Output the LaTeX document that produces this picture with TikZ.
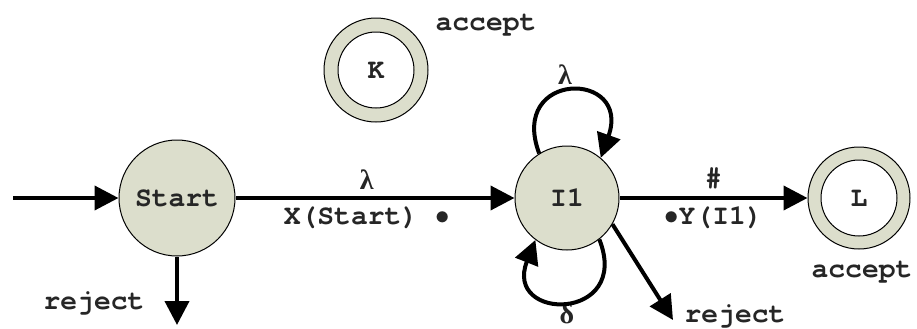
\documentclass[tikz,border=0pt]{standalone}
\usepackage{fontspec}
\newfontfamily\cursorfont{texgyrecursor-bold.otf}
\newfontfamily\greekfont{Liberation Serif}
\usetikzlibrary{arrows.meta}
\definecolor{statefill}{RGB}{220,222,204}
\newcommand{\glam}{{\greekfont\bfseries λ}}
\newcommand{\gdel}{{\greekfont\bfseries δ}}
\newcommand{\gdot}{$\bullet$}
\begin{document}
\begin{tikzpicture}[x=0.5pt,y=0.5pt,
  every node/.style={font=\cursorfont\fontsize{14}{16}\selectfont,
    text=black!85},
  state/.style={circle,draw,fill=statefill,line width=0.5pt,inner sep=0pt},
  ring/.style={circle,draw,fill=white,line width=0.5pt,inner sep=0pt,
    minimum size=38pt},
  arr/.style={line width=2pt,-{Triangle[length=12pt,width=12pt]}}]
\useasboundingbox (0,0) rectangle (917,328);
% states
\node[state,minimum size=58pt] (Start) at (177,130) {Start};
\node[state,minimum size=52pt] (I1) at (567,130) {I1};
\node[state,minimum size=52pt] (K) at (376,258) {};
\node[ring] (Kin) at (K) {K};
\node[state,minimum size=51pt] (L) at (859,130) {};
\node[ring] (Lin) at (L) {L};
% side texts
\node (acceptK) at (486,303) {accept};
\node (acceptL) at (862,56) {accept};
\node (rejectS) at (94,25) {reject};
\node (rejectI) at (735,12) {reject};
\node (lamI) at (565,253) {\glam};
\node (delI) at (567,14) {\gdel};
\coordinate (in) at (13,130);
\coordinate (outS) at (177,3);
\coordinate (outI) at (673,8);
% transitions
\draw[arr] (in) -- (Start);
\draw[arr] (Start) -- node[above,pos=0.47]{\glam}
  node[below,pos=0.47]{X(Start) \gdot} (I1);
\draw[arr] (I1) -- node[above]{\#} node[below]{\gdot Y(I1)} (L);
\draw[arr] (Start.south) -- (outS);
\draw[arr] (I1.-30) -- (outI);
\draw[arr] (I1.122) .. controls (508,258) and (632,258) .. (I1.50);
\draw[arr] (I1.-52) .. controls (632,6) and (503,6) .. (I1.-127);
\end{tikzpicture}
\end{document}
